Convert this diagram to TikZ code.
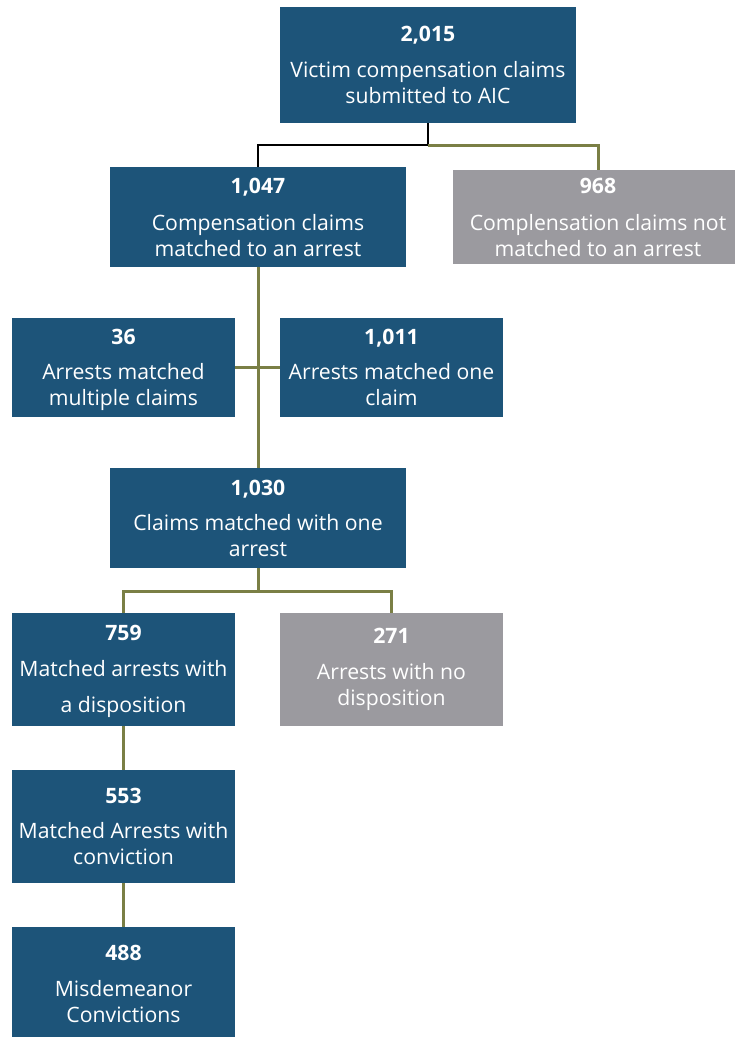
\documentclass[tikz,border=0pt]{standalone}
\usepackage{fontspec}
\setmainfont{Open Sans}
\definecolor{boxblue}{HTML}{1D5479}
\definecolor{boxgray}{HTML}{9B9A9F}
\definecolor{olive}{HTML}{7A7F45}
\newcommand{\lowerby}[1]{\rule{0pt}{\dimexpr 15pt+#1\relax}}
\tikzset{
  box/.style={rectangle, inner sep=0pt, align=center, text=white,
    font=\fontsize{21.2}{26}\selectfont},
  bluebox/.style={box, fill=boxblue},
  graybox/.style={box, fill=boxgray},
  oline/.style={draw=olive, line width=3pt},
  kline/.style={draw=black, line width=1.6pt},
}
\begin{document}
\begin{tikzpicture}[x=1pt,y=-1pt]
\useasboundingbox (0,0) rectangle (734,1038);
\node[bluebox, minimum width=296pt, minimum height=116pt] (top) at (428,65)
  {\textbf{2,015}\\[10pt]Victim compensation claims\\submitted to AIC};
\node[bluebox, minimum width=296pt, minimum height=100pt] (m1047) at (258,217)
  {\textbf{1,047}\\[11pt]Compensation claims\\matched to an arrest};
\node[graybox, minimum width=290pt, minimum height=94pt] (n968) at (598,217)
  {\textbf{968}\\[11pt]Complensation claims not\\matched to an arrest};
\node[bluebox, minimum width=223pt, minimum height=99pt] (m36) at (123.5,367.5)
  {\lowerby{6pt}\textbf{36}\\[9pt]Arrests matched\\multiple claims};
\node[bluebox, minimum width=223pt, minimum height=99pt] (m1011) at (391.5,367.5)
  {\textbf{1,011}\\[9pt]Arrests matched one\\claim};
\node[bluebox, minimum width=296pt, minimum height=100pt] (m1030) at (258,518)
  {\textbf{1,030}\\[9pt]Claims matched with one\\arrest};
\node[bluebox, minimum width=223pt, minimum height=113pt] (m759) at (123.5,669.5)
  {\lowerby{5pt}\textbf{759}\\[10pt]Matched arrests with\\[10pt]a disposition};
\node[graybox, minimum width=223pt, minimum height=113pt] (n271) at (391.5,669.5)
  {\textbf{271}\\[10pt]Arrests with no\\disposition};
\node[bluebox, minimum width=223pt, minimum height=113pt] (m553) at (123.5,826.5)
  {\textbf{553}\\[9pt]Matched Arrests with\\conviction};
\node[bluebox, minimum width=223pt, minimum height=110pt] (m488) at (123.5,982)
  {\lowerby{4pt}\textbf{488}\\[10pt]Misdemeanor\\Convictions};
% connectors
\coordinate (split1) at (428,145);
\draw[kline] (top.south) -- (split1) -| (m1047.north);
\draw[oline] (split1) -| (n968.north);
\draw[oline] (m1047.south) -- (m1030.north);
\draw[oline] (m36.east) -- (m1011.west);
\coordinate (split2) at (258,591);
\draw[oline] (m1030.south) -- (split2);
\draw[oline] (m759.north) |- (split2) -| (n271.north);
\draw[oline] (m759.south) -- (m553.north);
\draw[oline] (m553.south) -- (m488.north);
\end{tikzpicture}
\end{document}
